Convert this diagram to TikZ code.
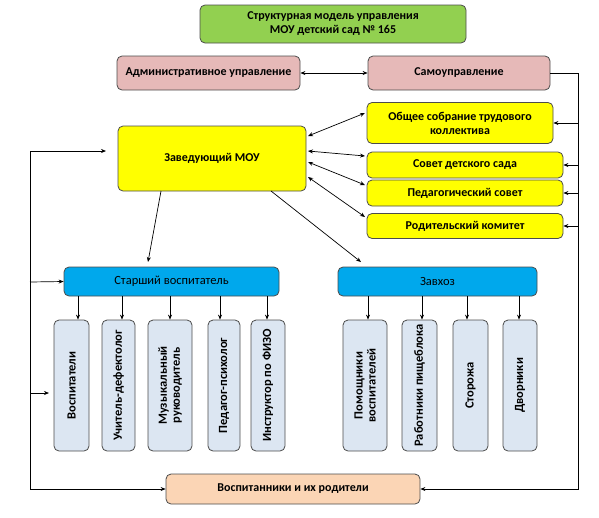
\documentclass[tikz,border=0pt]{standalone}
\usepackage{fontspec}
\setmainfont{Carlito}
\usetikzlibrary{arrows.meta,calc}
\definecolor{tgreen}{HTML}{92D050}
\definecolor{tpink}{HTML}{E6B9B8}
\definecolor{tyellow}{HTML}{FFFF00}
\definecolor{tblue}{HTML}{00A8EC}
\definecolor{tchild}{HTML}{DCE6F2}
\definecolor{tpeach}{HTML}{FBD5B5}
\begin{document}
\begin{tikzpicture}[x=1pt,y=-1pt,
  box/.style={draw=black!70, rounded corners=5pt, line width=0.8pt, align=center, inner sep=0pt,
    font=\bfseries\fontsize{12}{14}\selectfont},
  bluebox/.style={box, fill=tblue, font=\fontsize{12.5}{14}\selectfont},
  child/.style={box, fill=tchild, rotate=90, minimum width=131pt, font=\bfseries\fontsize{12.5}{13}\selectfont},
  conn/.style={line width=0.7pt, -{Stealth[length=5pt,width=4pt]}},
  dconn/.style={line width=0.7pt, {Stealth[length=5pt,width=4pt]}-{Stealth[length=5pt,width=4pt]}},
  plain/.style={line width=0.7pt}]
\useasboundingbox (0,0) rectangle (599,517);
\node[box, fill=tgreen, minimum width=266pt, minimum height=38pt] (title) at (333,24) {Структурная модель управления\\МОУ детский сад № 165};
\node[box, fill=tpink, minimum width=183pt, minimum height=34pt] (adm) at (208.5,73) {Административное управление};
\node[box, fill=tpink, minimum width=182pt, minimum height=34pt] (self) at (459,73) {Самоуправление};
\node[box, fill=tyellow, minimum width=186pt, minimum height=41pt] (obs) at (460,123) {Общее собрание трудового\\коллектива};
\node[box, fill=tyellow, minimum width=196pt, minimum height=26pt] (sov) at (465,165) {Совет детского сада};
\node[box, fill=tyellow, minimum width=196pt, minimum height=26pt] (ped) at (465,193) {Педагогический совет};
\node[box, fill=tyellow, minimum width=196pt, minimum height=25pt] (rod) at (465,226) {Родительский комитет};
\node[box, fill=tyellow, minimum width=188pt, minimum height=65pt] (zav) at (212,158.5) {Заведующий МОУ};
\node[bluebox, minimum width=215pt, minimum height=29pt] (st) at (171.5,281.5) {Старший воспитатель};
\node[bluebox, minimum width=199pt, minimum height=29pt] (zx) at (437.5,281.5) {Завхоз};
\node[child, minimum height=35pt] (c1) at (71.5,385.5) {Воспитатели};
\node[child, minimum height=33pt] (c2) at (118.5,385.5) {Учитель-дефектолог};
\node[child, minimum height=44pt] (c3) at (170,385.5) {Музыкальный\\руководитель};
\node[child, minimum height=32pt] (c4) at (224,385.5) {Педагог-психолог};
\node[child, minimum height=34pt] (c5) at (268,385.5) {Инструктор по ФИЗО};
\node[child, minimum height=44pt] (d1) at (365,385.5) {Помощники\\воспитателей};
\node[child, minimum height=35pt] (d2) at (419.5,385.5) {Работники пищеблока};
\node[child, minimum height=35pt] (d3) at (470.5,385.5) {Сторожа};
\node[child, minimum height=34pt] (d4) at (520,385.5) {Дворники};
\node[box, fill=tpeach, minimum width=254pt, minimum height=30pt] (bot) at (293,489) {Воспитанники и их родители};
% coordinates
\coordinate (rt) at (578,73);
\coordinate (rb) at (578,489);
\coordinate (lt) at (30,151);
\coordinate (lb) at (30,489);
\coordinate (za) at (106,151);
\coordinate (sa) at (30,282);
\coordinate (va) at (30,393);
\coordinate (ve) at (49,393);
\coordinate (z1) at (308,136); \coordinate (o1) at (365,113);
\coordinate (z2) at (308,151); \coordinate (o2) at (365,156);
\coordinate (z3) at (308,162); \coordinate (o3) at (365,185);
\coordinate (z4) at (308,177); \coordinate (o4) at (365,217);
\coordinate (zs) at (161,191); \coordinate (se) at (148,262);
\coordinate (zz) at (271,191); \coordinate (ze) at (361,262);
% connectors
\draw[dconn] (adm.east) -- (self.west);
\draw[conn] (self.east) -- (rt) -- (rb) -- (bot.east);
\draw[conn] (obs.east -| rt) -- (obs.east);
\draw[conn] (sov.east -| rt) -- (sov.east);
\draw[conn] (ped.east -| rt) -- (ped.east);
\draw[conn] (rod.east -| rt) -- (rod.east);
\draw[plain] (lt) -- (lb);
\draw[conn] (lt) -- (za);
\draw[conn] (sa) -- (st.west);
\draw[conn] (va) -- (ve);
\draw[conn] (lb) -- (bot.west);
\draw[dconn] (z1) -- (o1);
\draw[dconn] (z2) -- (o2);
\draw[dconn] (z3) -- (o3);
\draw[dconn] (z4) -- (o4);
\draw[conn] (zs) -- (se);
\draw[conn] (zz) -- (ze);
\foreach \n/\dx in {c1/6.5,c2/3.5,c3/0,c4/-4,c5/-1}{
  \draw[conn] ([xshift=\dx pt]\n.east |- st.south) -- ([xshift=\dx pt]\n.east);
}
\foreach \n/\dx in {d1/3,d2/2.5,d3/-3.5,d4/-1}{
  \draw[conn] ([xshift=\dx pt]\n.east |- zx.south) -- ([xshift=\dx pt]\n.east);
}
\end{tikzpicture}
\end{document}
